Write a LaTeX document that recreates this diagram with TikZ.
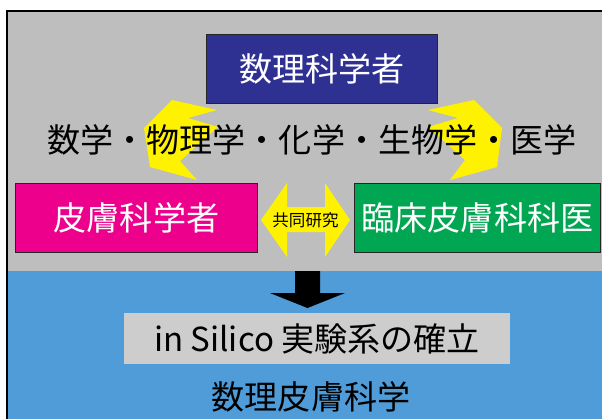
\documentclass[tikz,border=0pt]{standalone}
\usepackage{fontspec}
\setmainfont{Noto Sans CJK JP}
\definecolor{bggray}{HTML}{BEBEBE}
\definecolor{bgblue}{HTML}{509CD8}
\definecolor{navybox}{HTML}{2E3192}
\definecolor{magentabox}{HTML}{EC008C}
\definecolor{greenbox}{HTML}{00A651}
\definecolor{arrowyellow}{HTML}{FFF200}
\definecolor{lightbox}{HTML}{CDCDCD}
\begin{document}
\begin{tikzpicture}[x=0.75pt,y=-0.75pt,
  bigtext/.style={font=\fontsize{24.8}{28}\selectfont},
  rolebox/.style={draw=black!85, line width=0.8pt, rectangle, inner sep=0pt, text=white, bigtext},
  yel/.style={fill=arrowyellow, draw=none},
  plaintext/.style={inner sep=0pt, text=black, bigtext}]
\useasboundingbox (0,0) rectangle (602,418);
\clip (0,0) rectangle (602,418);
% backgrounds
\fill[bggray] (7,11) rectangle (620,271);
\fill[bgblue] (7,271) rectangle (620,430);
\draw[line width=1.7pt] (620,11.2) -- (7.2,11.2) -- (7.2,430);
% yellow bent arrows
\fill[yel] (172,100) -- (217,110) -- (188,118) -- (218,127) -- (180,161) -- (197,180) -- (150,167) -- (144,128) -- cycle;
\fill[yel] (474,100) -- (428,110) -- (458,118) -- (428,127) -- (465,160) -- (450,180) -- (497,167) -- (502,128) -- cycle;
% yellow double arrow
\fill[yel] (261,220) -- (287,183) -- (287,207) -- (325,207) -- (325,183) -- (350,220) -- (325,257) -- (325,232) -- (287,232) -- (287,257) -- cycle;
% boxes
\node[rolebox, fill=navybox, minimum width=173.3pt, minimum height=52pt] (math) at (322,69) {数理科学者};
\node[plaintext] (fields) at (312,139.5) {数学・物理学・化学・生物学・医学};
\node[rolebox, fill=magentabox, minimum width=181.7pt, minimum height=51.5pt] (derm) at (136.5,217.7) {皮膚科学者};
\node[rolebox, fill=greenbox, minimum width=185pt, minimum height=51.5pt] (clin) at (477.5,217.7) {臨床皮膚科科医};
\node[inner sep=0pt, font=\fontsize{12.4}{14}\selectfont] (collab) at (305.5,220) {共同研究};
% black down arrow
\fill[black] (295,271) -- (320,271) -- (320,293) -- (345,293) -- (307.5,308) -- (270,293) -- (295,293) -- cycle;
\node[plaintext, fill=lightbox, minimum width=289.5pt, minimum height=38.3pt] (silico) at (317,338.5) {in Silico 実験系の確立};
\node[plaintext] (title) at (311,397) {数理皮膚科学};
\end{tikzpicture}
\end{document}
